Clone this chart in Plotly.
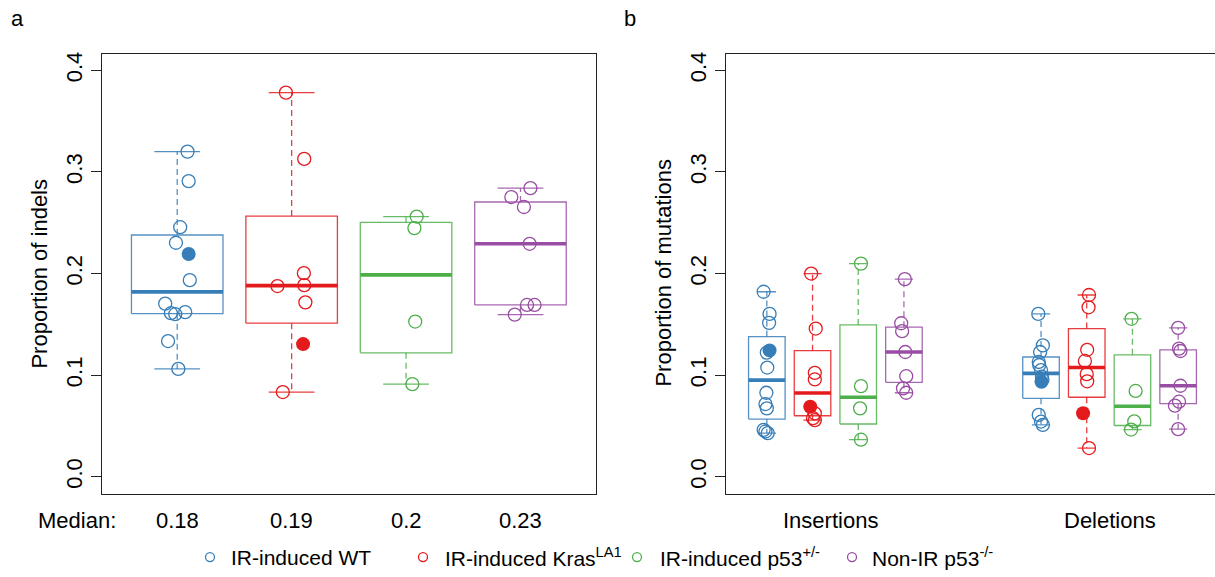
import numpy as np
import plotly.graph_objects as go

W, H = 1215, 577

# ---------------- data ----------------
GROUP_NAMES = ["IR-induced WT", "IR-induced Kras<sup>LA1</sup>",
               "IR-induced p53<sup>+/-</sup>", "Non-IR p53<sup>-/-</sup>"]
COLORS = ["#377EB8", "#E41A1C", "#4DAF4A", "#984EA3"]
BOX_COLORS = ["rgba(55,126,184,0.85)", "rgba(228,26,28,0.85)",
              "rgba(77,175,74,0.85)", "rgba(152,78,163,0.85)"]

# Panel a: proportion of indels
indel_wt = [0.320, 0.291, 0.2456, 0.2303, 0.1935, 0.1704, 0.161, 0.160, 0.162, 0.1336, 0.1062]
indel_wt_jit = [0.09, 0.10, 0.026, -0.011, 0.11, -0.105, -0.055, -0.017, 0.07, -0.08, 0.01]
indel_wt_filled = [0.2193]
indel_wt_filled_jit = [0.10]

indel_kras = [0.378, 0.3128, 0.2004, 0.1886, 0.1877, 0.1717, 0.0834]
indel_kras_jit = [-0.05, 0.11, 0.107, 0.11, -0.124, 0.12, -0.077]
indel_kras_filled = [0.1306]
indel_kras_filled_jit = [0.10]

indel_p53het = [0.2561, 0.2447, 0.1528, 0.0912]
indel_p53het_jit = [0.093, 0.073, 0.08, 0.055]

indel_nonir = [0.2841, 0.2753, 0.2655, 0.2293, 0.1691, 0.1691, 0.1596]
indel_nonir_jit = [0.087, -0.08, 0.03, 0.08, 0.057, 0.123, -0.05]

# Panel b: insertions
ins_wt = [0.1821, 0.1603, 0.1515, 0.1222, 0.1075, 0.0827, 0.0716, 0.0674, 0.0462, 0.0446, 0.043]
ins_wt_jit = [-0.07, 0.06, 0.05, 0.0, 0.01, -0.01, -0.03, 0.0, -0.07, -0.03, 0.02]
ins_wt_filled = [0.1244]
ins_wt_filled_jit = [0.06]

ins_kras = [0.2000, 0.1459, 0.1023, 0.0958, 0.0625, 0.0577, 0.0557]
ins_kras_jit = [-0.03, 0.07, 0.05, 0.05, 0.05, 0.01, 0.05]
ins_kras_filled = [0.069]
ins_kras_filled_jit = [-0.05]

ins_p53het = [0.2098, 0.0892, 0.0674, 0.0365]
ins_p53het_jit = [0.06, 0.06, 0.04, 0.06]

ins_nonir = [0.1945, 0.1511, 0.1433, 0.1228, 0.099, 0.087, 0.0827]
ins_nonir_jit = [0.02, -0.06, -0.04, 0.03, 0.05, -0.02, 0.05]

# Panel b: deletions
del_wt = [0.1603, 0.1293, 0.1228, 0.113, 0.110, 0.105, 0.0985, 0.0955, 0.0609, 0.0544, 0.0511]
del_wt_jit = [-0.06, 0.04, -0.02, -0.05, -0.04, 0.0, 0.02, 0.03, -0.05, 0.0, 0.04]
del_wt_filled = [0.0935]
del_wt_filled_jit = [0.01]

del_kras = [0.1789, 0.1668, 0.125, 0.114, 0.101, 0.094, 0.0283]
del_kras_jit = [0.05, 0.04, 0.01, -0.04, 0.0, 0.01, 0.05]
del_kras_filled = [0.0626]
del_kras_filled_jit = [-0.08]

del_p53het = [0.1555, 0.0845, 0.0545, 0.0465]
del_p53het_jit = [-0.02, 0.07, 0.04, -0.03]

del_nonir = [0.1466, 0.1261, 0.1238, 0.0896, 0.0739, 0.070, 0.0469]
del_nonir_jit = [0.0, 0.02, 0.05, 0.05, 0.02, -0.07, 0.0]

POS_A = [1, 2, 3, 4]
POS_INS = [1, 2, 3, 4]
POS_DEL = [7, 8, 9, 10]
Y_TICKS = [0.0, 0.1, 0.2, 0.3, 0.4]
Y_TICK_TEXT = ["0.0", "0.1", "0.2", "0.3", "0.4"]
BOX_WIDTH = 0.8

FONT = "Liberation Sans, Arial, Helvetica, sans-serif"
FS = 22
FS_LEG = 21

# ---------------- helpers ----------------
def fivenum(x):
    x = sorted(x)
    n = len(x)
    n4 = np.floor((n + 3) / 2) / 2
    d = [1, n4, (n + 1) / 2, n + 1 - n4, n]
    return [0.5 * (x[int(np.floor(di)) - 1] + x[int(np.ceil(di)) - 1]) for di in d]


def box_stats(x):
    _, q1, med, q3, _ = fivenum(x)
    iqr = q3 - q1
    lo = min(v for v in x if v >= q1 - 1.5 * iqr)
    hi = max(v for v in x if v <= q3 + 1.5 * iqr)
    return lo, q1, med, q3, hi


def px_x(p):
    return p / W


def px_y(p):
    return 1 - p / H


fig = go.Figure()


def add_group(xa, ya, pos, vals, jit, fvals, fjit, gi):
    allv = list(vals) + list(fvals)
    lo, q1, med, q3, hi = box_stats(allv)
    hw = BOX_WIDTH / 2
    bc = BOX_COLORS[gi]
    c = COLORS[gi]
    name = GROUP_NAMES[gi]
    common = dict(xaxis=xa, yaxis=ya, showlegend=False, hoverinfo="skip", mode="lines")
    fig.add_trace(go.Scatter(x=[pos - hw, pos + hw, pos + hw, pos - hw, pos - hw],
                             y=[q1, q1, q3, q3, q1], line=dict(color=bc, width=1.3),
                             name=name, **common))
    for a, b in [(q3, hi), (q1, lo)]:
        fig.add_trace(go.Scatter(x=[pos, pos], y=[a, b],
                                 line=dict(color=bc, width=1.3, dash="6px,4px"),
                                 name=name, **common))
    for v in (hi, lo):
        fig.add_trace(go.Scatter(x=[pos - hw / 2, pos + hw / 2], y=[v, v],
                                 line=dict(color=bc, width=1.3), name=name, **common))
    fig.add_trace(go.Scatter(x=[pos - hw, pos + hw], y=[med, med],
                             line=dict(color=c, width=3.6), name=name, **common))
    fig.add_trace(go.Scatter(x=[pos + j for j in jit], y=vals, mode="markers",
                             marker=dict(symbol="circle-open", size=13, color=c,
                                         line=dict(width=1.3, color=c)),
                             xaxis=xa, yaxis=ya, showlegend=False, name=name))
    if fvals:
        fig.add_trace(go.Scatter(x=[pos + j for j in fjit], y=fvals, mode="markers",
                                 marker=dict(symbol="circle", size=14, color=c,
                                             line=dict(width=0)),
                                 xaxis=xa, yaxis=ya, showlegend=False, name=name))
    return med


panel_a = [
    (indel_wt, indel_wt_jit, indel_wt_filled, indel_wt_filled_jit),
    (indel_kras, indel_kras_jit, indel_kras_filled, indel_kras_filled_jit),
    (indel_p53het, indel_p53het_jit, [], []),
    (indel_nonir, indel_nonir_jit, [], []),
]
panel_ins = [
    (ins_wt, ins_wt_jit, ins_wt_filled, ins_wt_filled_jit),
    (ins_kras, ins_kras_jit, ins_kras_filled, ins_kras_filled_jit),
    (ins_p53het, ins_p53het_jit, [], []),
    (ins_nonir, ins_nonir_jit, [], []),
]
panel_del = [
    (del_wt, del_wt_jit, del_wt_filled, del_wt_filled_jit),
    (del_kras, del_kras_jit, del_kras_filled, del_kras_filled_jit),
    (del_p53het, del_p53het_jit, [], []),
    (del_nonir, del_nonir_jit, [], []),
]

medians = []
for gi, (v, j, fv, fj) in enumerate(panel_a):
    medians.append(add_group("x", "y", POS_A[gi], v, j, fv, fj, gi))
for gi, (v, j, fv, fj) in enumerate(panel_ins):
    add_group("x2", "y2", POS_INS[gi], v, j, fv, fj, gi)
for gi, (v, j, fv, fj) in enumerate(panel_del):
    add_group("x2", "y2", POS_DEL[gi], v, j, fv, fj, gi)

# ---------------- layout ----------------
Y_DOMAIN = [px_y(493.3), px_y(51.7)]
FRAME = "#222222"
yax = dict(domain=Y_DOMAIN, range=[-0.0165, 0.4165], tickvals=Y_TICKS, ticktext=Y_TICK_TEXT,
           ticks="outside", ticklen=10, tickwidth=1.3, tickcolor=FRAME, tickangle=-90,
           showline=True, linecolor=FRAME, linewidth=1.3, showgrid=False, zeroline=False,
           tickfont=dict(size=FS, family=FONT, color="black"))
xax = dict(showgrid=False, zeroline=False, showline=True, mirror=True, linecolor=FRAME,
           linewidth=1.3, ticks="", showticklabels=False)

RIGHT_LEFT_PX = 725.7
UNIT_B = 45.7
fig.update_layout(
    width=W, height=H, margin=dict(l=0, r=0, t=0, b=0),
    plot_bgcolor="white", paper_bgcolor="white", showlegend=False,
    font=dict(family=FONT, size=FS, color="black"),
    xaxis=dict(domain=[px_x(101.7), px_x(596)], range=[0.34, 4.66], anchor="y", **xax),
    yaxis=dict(anchor="x", mirror=True, **yax),
    xaxis2=dict(domain=[px_x(RIGHT_LEFT_PX), 1.0],
                range=[0.1, 0.1 + (W - RIGHT_LEFT_PX) / UNIT_B], anchor="y2", **xax),
    yaxis2=dict(anchor="x2", mirror=False, **yax),
)

ann = []
ann.append(dict(text="a", x=px_x(17), y=px_y(17), xref="paper", yref="paper",
                xanchor="center", yanchor="middle", showarrow=False))
ann.append(dict(text="b", x=px_x(630), y=px_y(17), xref="paper", yref="paper",
                xanchor="center", yanchor="middle", showarrow=False))
ann.append(dict(text="Proportion of indels", x=px_x(40), y=px_y(272.5), xref="paper",
                yref="paper", textangle=-90, xanchor="center", yanchor="middle",
                showarrow=False))
ann.append(dict(text="Proportion of mutations", x=px_x(664), y=px_y(272.5), xref="paper",
                yref="paper", textangle=-90, xanchor="center", yanchor="middle",
                showarrow=False))
ann.append(dict(text="Median:", x=px_x(77), y=px_y(520), xref="paper", yref="paper",
                xanchor="center", yanchor="middle", showarrow=False))
for p, m in zip(POS_A, medians):
    ann.append(dict(text=f"{round(m, 2):g}", x=p, y=px_y(520), xref="x", yref="paper",
                    xanchor="center", yanchor="middle", showarrow=False))
ann.append(dict(text="Insertions", x=np.mean(POS_INS) - 0.1, y=px_y(520), xref="x2",
                yref="paper", xanchor="center", yanchor="middle", showarrow=False))
ann.append(dict(text="Deletions", x=np.mean(POS_DEL), y=px_y(520), xref="x2", yref="paper",
                xanchor="center", yanchor="middle", showarrow=False))

# legend (manual, single row under the panels)
LEG_MARK_X = [210, 423, 637, 852]
LEG_TEXT_X = [229, 443, 658, 870]
LEG_Y = 557
shapes = []
for gi in range(4):
    ann.append(dict(text=GROUP_NAMES[gi], x=px_x(LEG_TEXT_X[gi]), y=px_y(LEG_Y),
                    xref="paper", yref="paper", xanchor="left", yanchor="middle",
                    showarrow=False, font=dict(size=FS_LEG)))
    shapes.append(dict(type="circle", xref="paper", yref="paper",
                       xsizemode="pixel", ysizemode="pixel",
                       xanchor=px_x(LEG_MARK_X[gi]), yanchor=px_y(LEG_Y),
                       x0=-4.5, x1=4.5, y0=-4.5, y1=4.5,
                       line=dict(color=COLORS[gi], width=1.3)))
fig.update_layout(annotations=ann, shapes=shapes)

# remove the default 8px page margin so the figure sits at the window's corner
fig.write_html("out.html", config={"displayModeBar": False},
               post_script="document.body.style.margin='0';document.body.style.overflow='hidden';")
